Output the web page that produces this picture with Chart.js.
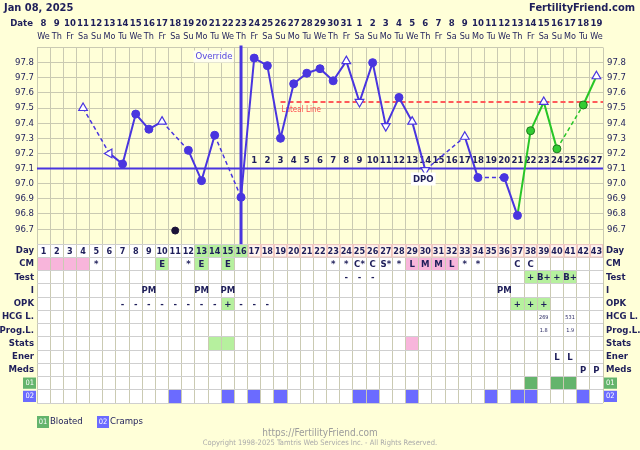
<!DOCTYPE html>
<html><head><meta charset="utf-8">
<script src="https://cdn.jsdelivr.net/npm/chart.js@4"></script>
<style>
html,body{margin:0;padding:0;background:#FFFFD8;}
#wrap{width:640px;height:450px;}
</style></head><body>
<div id="wrap"><canvas id="c" width="640" height="450"></canvas></div>
<script>
// ---------- DATA ----------
const cycleDays = [1,2,3,4,5,6,7,8,9,10,11,12,13,14,15,16,17,18,19,20,21,22,23,24,25,26,27,28,29,30,31,32,33,34,35,36,37,38,39,40,41,42,43];
const dateLabels = ['8','9','10','11','12','13','14','15','16','17','18','19','20','21','22','23','24','25','26','27','28','29','30','31','1','2','3','4','5','6','7','8','9','10','11','12','13','14','15','16','17','18','19'];
const weekdayLabels = ['We','Th','Fr','Sa','Su','Mo','Tu','We','Th','Fr','Sa','Su','Mo','Tu','We','Th','Fr','Sa','Su','Mo','Tu','We','Th','Fr','Sa','Su','Mo','Tu','We','Th','Fr','Sa','Su','Mo','Tu','We','Th','Fr','Sa','Su','Mo','Tu','We'];
const temps = [null,null,null,97.50,null,97.20,97.13,97.46,97.36,97.41,null,97.22,97.02,97.32,null,96.91,97.83,97.78,97.30,97.66,97.73,97.76,97.68,97.81,97.54,97.80,97.38,97.57,97.41,97.09,null,null,97.31,97.04,null,97.04,96.79,97.35,97.54,97.23,null,97.52,97.71];
const markers = ['','','','up','','left','dot','dot','dot','up','','dot','dot','dot','','dot','dot','dot','dot','dot','dot','dot','dot','up','down','dot','down','dot','up','down','','','up','dot','','dot','dot','dot','up','dot','','dot','up'];
const extraDots = [[11, 96.69]];
const coverline = 97.10;
const lutealLevel = 97.54;
const lutealStartDay = 19;
const ovulationDay = 16;
const newPhaseDay = 38;
const tempMin = 96.6, tempMax = 97.9;
const rowLabels = ['Day','CM','Test','I','OPK','HCG L.','Prog.L.','Stats','Ener','Meds','01','02'];
const dayHighlight = [13,14,15,16];
const cmRow = [[1,'','pink'],[2,'','pink'],[3,'','pink'],[4,'','pink'],[5,'*'],[10,'E','green'],[12,'*'],[13,'E','green'],[15,'E','green'],[23,'*'],[24,'*'],[25,'C*'],[26,'C'],[27,'S*'],[28,'*'],[29,'L','pink'],[30,'M','pink'],[31,'M','pink'],[32,'L','pink'],[33,'*'],[34,'*'],[37,'C'],[38,'C']];
const testRow = [[24,'-'],[25,'-'],[26,'-'],[38,'+','green'],[39,'B+','green'],[40,'+','green'],[41,'B+','green']];
const intercourseRow = [[9,'PM'],[13,'PM'],[15,'PM'],[36,'PM']];
const opkRow = [[7,'-'],[8,'-'],[9,'-'],[10,'-'],[11,'-'],[12,'-'],[13,'-'],[14,'-'],[15,'+','green'],[16,'-'],[17,'-'],[18,'-'],[37,'+','green'],[38,'+','green'],[39,'+','green']];
const hcgRow = [[39,'269'],[41,'531']];
const progRow = [[39,'1.8'],[41,'1.9']];
const statsRow = [[14,'','green'],[15,'','green'],[29,'','pink']];
const energyRow = [[40,'L'],[41,'L']];
const medsRow = [[42,'P'],[43,'P']];
const bloatedRow = [[38,'','bloated'],[40,'','bloated'],[41,'','bloated']];
const crampsRow = [[11,'','cramps'],[15,'','cramps'],[17,'','cramps'],[19,'','cramps'],[25,'','cramps'],[26,'','cramps'],[29,'','cramps'],[35,'','cramps'],[37,'','cramps'],[38,'','cramps'],[42,'','cramps']];
const tableRows = [cmRow,testRow,intercourseRow,opkRow,hcgRow,progRow,statsRow,energyRow,medsRow,bloatedRow,crampsRow];
const legendItems = [['01','Bloated','bloated'],['02','Cramps','cramps']];

// ---------- STYLE ----------
const FONT = '"DejaVu Sans Condensed", "DejaVu Sans", sans-serif';
const BG = '#FFFFD8', NAVY = '#1E1E5A', BLUE = '#4935DF', GREEN = '#27C627';
const GRID = '#CACAB2';
const CELL = {green:'#B6F09E', pink:'#F8B5DB', bloated:'#64B46C', cramps:'#6B6BFF'};
Chart.defaults.font.family = FONT;

const tablePlugin = {
  id:'ffTable',
  beforeDraw(chart){
    const {ctx, chartArea:a, scales} = chart;
    const x = scales.x, yt = scales.yt, ytR = scales.ytR;
    ctx.save();
    ctx.fillStyle = BG; ctx.fillRect(0,0,chart.width,chart.height);
    ctx.fillStyle = '#FFFFFF';
    ctx.fillRect(a.left, yt.top, a.right-a.left, yt.bottom-yt.top);
    const cell = (d,r,col)=>{
      const l = x.getPixelForValue(d-0.5), rr = x.getPixelForValue(d+0.5);
      const t = yt.getPixelForValue(r), b = yt.getPixelForValue(r+1);
      ctx.fillStyle = col; ctx.fillRect(l,t,rr-l,b-t);
    };
    cycleDays.forEach(d=>{ if(d>ovulationDay) cell(d,0,'#FFF4EE'); });
    dayHighlight.forEach(d=>cell(d,0,CELL.green));
    tableRows.forEach((row,ri)=>row.forEach(([d,t,c])=>{ if(c) cell(d,ri+1,CELL[c]); }));
    [[10,'bloated'],[11,'cramps']].forEach(([r,c])=>{
      const t = yt.getPixelForValue(r)+1, b = yt.getPixelForValue(r+1)-1;
      ctx.fillStyle = CELL[c];
      ctx.fillRect(yt.right-14, t, 13, b-t);
      ctx.fillRect(ytR.left+1, t, 13, b-t);
    });
    ctx.restore();
  },
  beforeDatasetsDraw(chart){
    const {ctx, scales:{x,y,yt}} = chart;
    ctx.save();
    // pinkish borders on luteal-phase day cells
    ctx.strokeStyle = '#F2C8C0'; ctx.lineWidth = 1;
    const t0 = yt.getPixelForValue(0), t1 = yt.getPixelForValue(1);
    cycleDays.forEach(d=>{ if(d>ovulationDay){
      const l = Math.round(x.getPixelForValue(d-0.5))+0.5, r = Math.round(x.getPixelForValue(d+0.5))-0.5;
      ctx.strokeRect(l, t0+0.5, r-l, t1-t0-1);
    }});
    ctx.strokeStyle = BLUE; ctx.lineWidth = 3;
    const xp = x.getPixelForValue(ovulationDay);
    ctx.beginPath(); ctx.moveTo(xp, y.top-2); ctx.lineTo(xp, y.bottom); ctx.stroke();
    ctx.font = '9.5px '+FONT; ctx.textAlign='right'; ctx.textBaseline='middle';
    const tx = x.getPixelForValue(ovulationDay-0.5)-2, ty = y.top+9;
    const w = ctx.measureText('Override').width;
    ctx.fillStyle = '#FFFFF0'; ctx.fillRect(tx-w-2, ty-6, w+3, 12);
    ctx.fillStyle = '#5545E0'; ctx.fillText('Override', tx, ty);
    ctx.font = '8px '+FONT; ctx.textAlign='left';
    ctx.fillStyle = '#FF5050';
    ctx.fillText('Luteal Line', x.getPixelForValue(lutealStartDay)+1, y.getPixelForValue(lutealLevel)+8);
    ctx.font = 'bold 9.5px '+FONT; ctx.textAlign='center'; ctx.fillStyle = NAVY;
    const cy = y.getPixelForValue(coverline);
    cycleDays.forEach(d=>{ if(d>ovulationDay) ctx.fillText(String(d-ovulationDay), x.getPixelForValue(d), cy-8); });
    ctx.restore();
  },
  afterDatasetsDraw(chart){
    const {ctx, scales:{x,y,yt}} = chart;
    ctx.save();
    ctx.font = 'bold 9.5px '+FONT; ctx.textAlign='center'; ctx.textBaseline='middle';
    const cy = y.getPixelForValue(coverline);
    const dx = x.getPixelForValue(30)-2;
    const dw = ctx.measureText('DPO').width;
    ctx.fillStyle = '#FFFFFF'; ctx.fillRect(dx-dw/2-2, cy+4, dw+4, 13);
    ctx.fillStyle = NAVY; ctx.fillText('DPO', dx, cy+11);
    ctx.font = 'bold 9px '+FONT;
    cycleDays.forEach(d=>ctx.fillText(String(d), x.getPixelForValue(d), (yt.getPixelForValue(0)+yt.getPixelForValue(1))/2+0.5));
    tableRows.forEach((row,ri)=>{
      const small = (ri===4||ri===5);
      ctx.font = small ? '5.5px '+FONT : 'bold 9.5px '+FONT;
      const ym = (yt.getPixelForValue(ri+1)+yt.getPixelForValue(ri+2))/2 + 0.5;
      row.forEach(([d,t])=>{ if(t) ctx.fillText(t, x.getPixelForValue(d), ym); });
    });
    ctx.restore();
  },
  afterDraw(chart){
    const {ctx} = chart;
    ctx.save();
    ctx.textBaseline='middle';
    ctx.fillStyle = NAVY;
    ctx.font = 'bold 11px '+FONT; ctx.textAlign='left';
    ctx.fillText('Jan 08, 2025', 4, 8);
    ctx.textAlign='right';
    ctx.fillText('FertilityFriend.com', 635, 8);
    ctx.font = 'bold 9.5px '+FONT;
    ctx.fillText('Date', 33, 24);
    let lx = 37;
    legendItems.forEach(([code,name,c])=>{
      ctx.fillStyle = CELL[c]; ctx.fillRect(lx, 416, 12, 12);
      ctx.fillStyle = '#FFFFFF'; ctx.font = '7.5px '+FONT; ctx.textAlign='center';
      ctx.fillText(code, lx+6, 422.5);
      ctx.fillStyle = NAVY; ctx.font = '9.5px '+FONT; ctx.textAlign='left';
      ctx.fillText(name, lx+13, 422);
      lx += 60;
    });
    ctx.textAlign='center';
    ctx.fillStyle = '#9C9C9C'; ctx.font = '10px '+FONT;
    ctx.fillText('https://FertilityFriend.com', 320, 433);
    ctx.fillStyle = '#ABABAB'; ctx.font = '7.5px '+FONT;
    ctx.fillText('Copyright 1998-2025 Tamtris Web Services Inc. - All Rights Reserved.', 320, 443);
    ctx.restore();
  }
};

const tempPoints = temps.map((t,i)=>({x:cycleDays[i], y:t}));
const isGreen = i => cycleDays[i] >= newPhaseDay;
const rot = {up:0, down:180, left:270};
const gapSeg = c => !!(c.p0.skip || c.p1.skip);

const dayTicks = s => { s.ticks = cycleDays.map(v=>({value:v})); };
const tempTickCb = v => (v>tempMin+0.05 && v<tempMax-0.05) ? v.toFixed(1) : '';
const rowTicks = s => { s.ticks = rowLabels.map((l,i)=>({value:i+0.5})); };
const rowFont = c => c.index>=10 ? {size:7.5, weight:'normal'} : {size:9.5, weight:'bold'};
const rowColor = c => c.index>=10 ? '#FFFFFF' : NAVY;

new Chart(document.getElementById('c'), {
  type:'line',
  data:{
    datasets:[
      {
        label:'Temperature', data: tempPoints, xAxisID:'x', yAxisID:'y', spanGaps:true,
        borderColor: BLUE, borderWidth:2, tension:0,
        segment:{
          borderDash: c => gapSeg(c) ? [4,3] : [],
          borderWidth: c => gapSeg(c) ? 1.5 : 2,
          borderColor: c => isGreen(c.p1DataIndex) ? GREEN : BLUE
        },
        pointStyle: c => markers[c.dataIndex]==='dot' ? 'circle' : 'triangle',
        pointRotation: c => rot[markers[c.dataIndex]] || 0,
        pointRadius: c => markers[c.dataIndex]==='dot' ? 4 : 5,
        pointBackgroundColor: c => markers[c.dataIndex]==='dot' ? (isGreen(c.dataIndex) ? '#33CC33' : BLUE) : '#FFFFFF',
        pointBorderColor: c => (markers[c.dataIndex]==='dot' && isGreen(c.dataIndex)) ? '#1E7A1E' : BLUE,
        pointBorderWidth: c => markers[c.dataIndex]==='dot' ? 1 : 1.2
      },
      {
        label:'Coverline', data:[{x:0.5,y:coverline},{x:43.5,y:coverline}], xAxisID:'x', yAxisID:'y',
        borderColor: BLUE, borderWidth:2, pointRadius:0
      },
      {
        label:'Luteal', data:[{x:lutealStartDay,y:lutealLevel},{x:43.5,y:lutealLevel}], xAxisID:'x', yAxisID:'y',
        borderColor:'#FF5A5A', borderWidth:2, borderDash:[5,3], pointRadius:0
      },
      {
        label:'Other', data: extraDots.map(([d,t])=>({x:d,y:t})), xAxisID:'x', yAxisID:'y',
        showLine:false, pointRadius:3.5, pointBackgroundColor:'#1A1238', pointBorderColor:'#1A1238'
      }
    ]
  },
  options:{
    responsive:false, animation:false, devicePixelRatio:1,
    layout:{padding:{top:16, bottom:47, left:0, right:0}},
    plugins:{legend:{display:false}, tooltip:{enabled:false}},
    scales:{
      x:{ type:'linear', position:'bottom', min:0.5, max:43.5, afterBuildTicks: dayTicks,
          ticks:{display:false}, grid:{offset:true, color:GRID, drawTicks:false}, border:{display:false},
          afterFit: s=>{ s.height = 0; } },
      xDate:{ type:'linear', position:'top', min:0.5, max:43.5, weight:1, afterBuildTicks: dayTicks,
          ticks:{callback:(v,i)=>dateLabels[i], autoSkip:false, maxRotation:0, minRotation:0, padding:0,
                 color:NAVY, font:{size:9.5, weight:'bold'}},
          grid:{display:false, drawTicks:false}, border:{display:false}, afterFit: s=>{ s.height = 13; } },
      xWd:{ type:'linear', position:'top', min:0.5, max:43.5, weight:0, afterBuildTicks: dayTicks,
          ticks:{callback:(v,i)=>weekdayLabels[i], autoSkip:false, maxRotation:0, minRotation:0, padding:5.5,
                 color:NAVY, font:{size:9}},
          grid:{display:false, drawTicks:false}, border:{display:false}, afterFit: s=>{ s.height = 18.5; } },
      y:{ type:'linear', position:'left', min:tempMin, max:tempMax, stack:'L', stackWeight:196.5, weight:1,
          ticks:{stepSize:0.1, callback:tempTickCb, color:NAVY, font:{size:9.5}, padding:3, autoSkip:false},
          grid:{color:GRID, drawTicks:false}, border:{display:false}, afterFit: s=>{ s.width = 37; } },
      yt:{ type:'linear', position:'left', min:0, max:12, reverse:true, stack:'L', stackWeight:158.7, weight:0,
          afterBuildTicks: rowTicks,
          ticks:{callback:(v,i)=>rowLabels[i], color:rowColor, font:rowFont, padding:3, autoSkip:false},
          grid:{offset:true, color:'#CFCFCF', drawTicks:false}, border:{display:false}, afterFit: s=>{ s.width = 37; } },
      yR:{ type:'linear', position:'right', min:tempMin, max:tempMax, stack:'R', stackWeight:196.5, weight:0,
          ticks:{stepSize:0.1, callback:tempTickCb, color:NAVY, font:{size:9.5}, padding:4, autoSkip:false},
          grid:{display:false, drawTicks:false}, border:{display:false}, afterFit: s=>{ s.width = 37; } },
      ytR:{ type:'linear', position:'right', min:0, max:12, reverse:true, stack:'R', stackWeight:158.7, weight:1,
          afterBuildTicks: rowTicks,
          ticks:{callback:(v,i)=>rowLabels[i], color:rowColor, font:rowFont, padding:3, autoSkip:false},
          grid:{display:false, drawTicks:false}, border:{display:false}, afterFit: s=>{ s.width = 37; } }
    }
  },
  plugins:[tablePlugin]
});
</script>
</body></html>
